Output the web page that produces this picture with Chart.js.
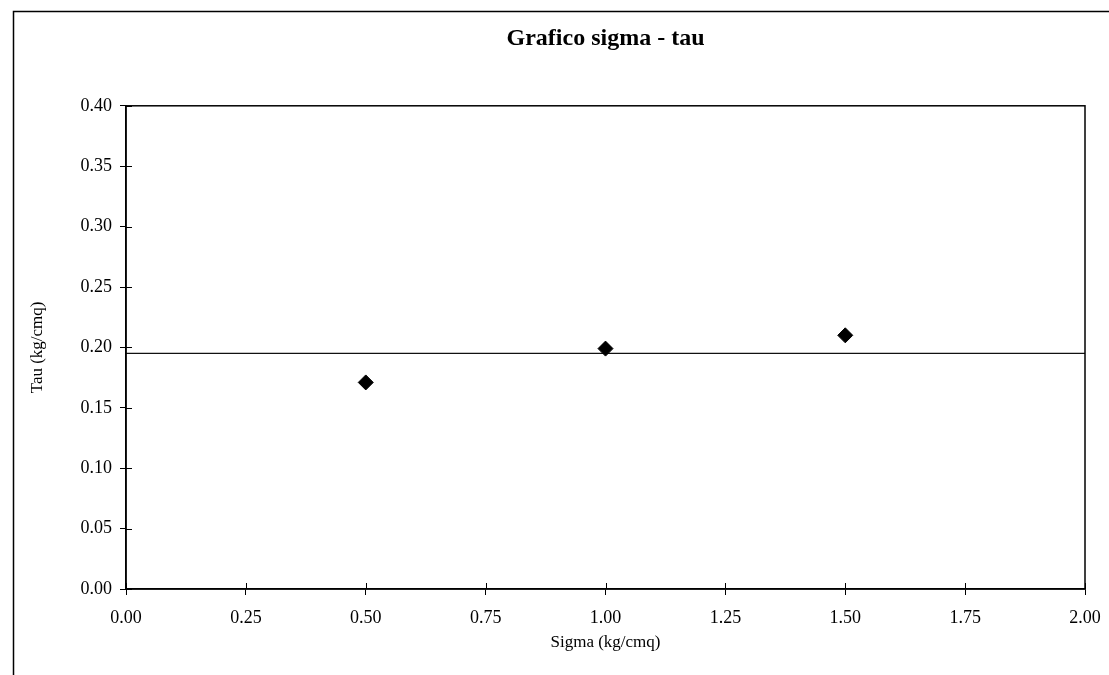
<!DOCTYPE html>
<html>
<head>
<meta charset="utf-8">
<script src="https://cdn.jsdelivr.net/npm/chart.js@4/dist/chart.umd.min.js"></script>
<style>
  html, body { margin: 0; padding: 0; background: #fff; }
  #wrap { width: 1109px; height: 675px; position: relative; }
</style>
</head>
<body>
<div id="wrap"><canvas id="c" width="1109" height="675"></canvas></div>
<script>
// ---- data ----
const sigma = [0.5, 1.0, 1.5];
const tau = [0.171, 0.199, 0.210];
const fitSigma = [0.0, 2.0];
const fitTau = [0.195, 0.195];
const xTicks = [0, 0.25, 0.5, 0.75, 1.0, 1.25, 1.5, 1.75, 2.0];
const yTicks = [0, 0.05, 0.10, 0.15, 0.20, 0.25, 0.30, 0.35, 0.40];
const titleText = 'Grafico sigma - tau';
const xTitle = 'Sigma (kg/cmq)';
const yTitle = 'Tau (kg/cmq)';

const SERIF = '"Liberation Serif", "Times New Roman", serif';

const frame = {
  id: 'frame',
  beforeDraw(chart) {
    const ctx = chart.ctx;
    ctx.save();
    ctx.fillStyle = '#fff';
    ctx.fillRect(0, 0, chart.width, chart.height);
    ctx.strokeStyle = '#000';
    ctx.lineWidth = 1.5;
    ctx.beginPath();
    ctx.moveTo(13.5, chart.height);
    ctx.lineTo(13.5, 11.5);
    ctx.lineTo(chart.width, 11.5);
    ctx.stroke();
    ctx.restore();
  },
  afterDraw(chart) {
    const ctx = chart.ctx;
    const a = chart.chartArea;
    const xs = chart.scales.x, ys = chart.scales.y;
    ctx.save();
    ctx.strokeStyle = '#000';
    ctx.lineWidth = 1.5;
    ctx.strokeRect(a.left, a.top, a.right - a.left, a.bottom - a.top);
    ctx.lineWidth = 1;
    ctx.beginPath();
    xs.ticks.forEach(t => {
      const px = Math.round(xs.getPixelForValue(t.value)) + 0.5;
      ctx.moveTo(px, a.bottom);
      ctx.lineTo(px, a.bottom - 6);
    });
    ys.ticks.forEach(t => {
      const py = Math.round(ys.getPixelForValue(t.value)) + 0.5;
      ctx.moveTo(a.left, py);
      ctx.lineTo(a.left + 6, py);
    });
    ctx.stroke();
    ctx.restore();
  }
};

new Chart(document.getElementById('c'), {
  type: 'scatter',
  data: {
    datasets: [
      {
        label: 'Punti',
        data: sigma.map((s, i) => ({ x: s, y: tau[i] })),
        pointStyle: 'rectRot',
        pointRadius: 7.5,
        pointHoverRadius: 7.5,
        backgroundColor: '#000',
        borderColor: '#000',
        borderWidth: 1,
        showLine: false
      },
      {
        label: 'Inviluppo',
        type: 'line',
        data: fitSigma.map((s, i) => ({ x: s, y: fitTau[i] })),
        borderColor: '#111',
        borderWidth: 1.2,
        pointRadius: 0,
        fill: false,
        tension: 0
      }
    ]
  },
  options: {
    responsive: false,
    animation: false,
    devicePixelRatio: 1,
    layout: { padding: { left: 0, right: 24, top: 0, bottom: 0 } },
    plugins: {
      legend: { display: false },
      tooltip: { enabled: false },
      title: {
        display: true,
        fullSize: false,
        text: titleText,
        color: '#000',
        font: { family: SERIF, size: 24, weight: 'bold' },
        padding: { top: 24, bottom: 53 }
      }
    },
    scales: {
      x: {
        type: 'linear',
        min: 0, max: 2,
        afterBuildTicks: s => { s.ticks = xTicks.map(v => ({ value: v })); },
        afterFit: s => { s.height = 86; s.paddingLeft = 0; s.paddingRight = 0; },
        ticks: {
          color: '#000',
          font: { family: SERIF, size: 18 },
          padding: 12,
          maxRotation: 0,
          callback: v => Number(v).toFixed(2)
        },
        grid: { drawOnChartArea: false, drawTicks: true, tickLength: 6, color: '#000', lineWidth: 1 },
        border: { display: true, color: '#000', width: 1.5 },
        title: {
          display: true, text: xTitle, color: '#000',
          font: { family: SERIF, size: 17 },
          padding: { top: 0, bottom: 22 }
        }
      },
      y: {
        type: 'linear',
        min: 0, max: 0.4,
        afterBuildTicks: s => { s.ticks = yTicks.map(v => ({ value: v })); },
        afterFit: s => { s.width = 126; },
        ticks: {
          color: '#000',
          font: { family: SERIF, size: 18 },
          padding: 8,
          callback: v => Number(v).toFixed(2)
        },
        grid: { drawOnChartArea: false, drawTicks: true, tickLength: 6, color: '#000', lineWidth: 1 },
        border: { display: true, color: '#000', width: 1.5 },
        title: {
          display: true, text: yTitle, color: '#000',
          font: { family: SERIF, size: 17 },
          padding: { top: 27, bottom: 0 }
        }
      }
    }
  },
  plugins: [frame]
});
</script>
</body>
</html>
